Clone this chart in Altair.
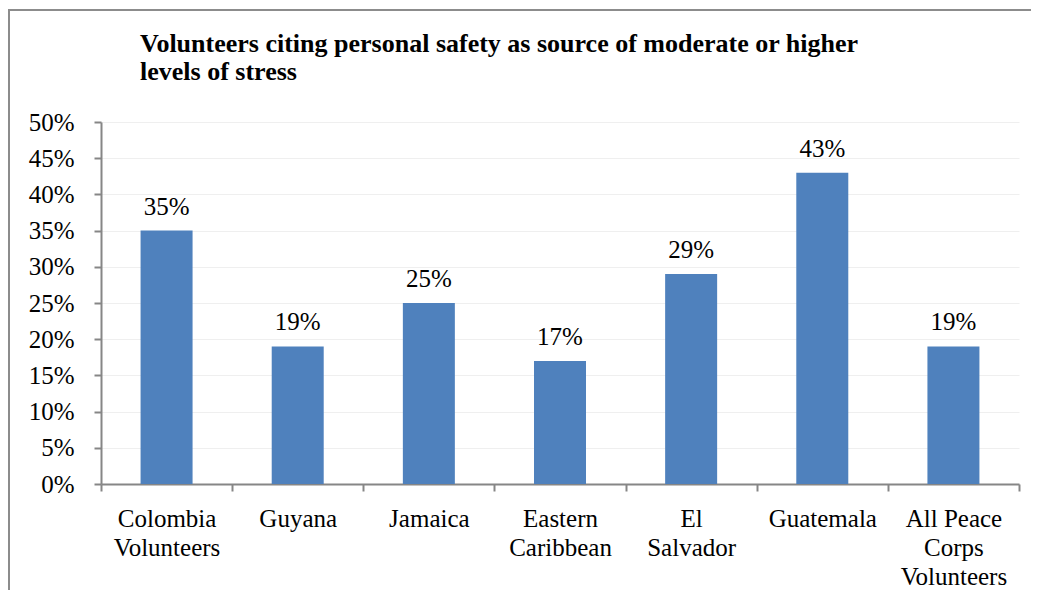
import altair as alt
import pandas as pd

categories = ["Colombia|Volunteers", "Guyana", "Jamaica", "Eastern|Caribbean",
              "El|Salvador", "Guatemala", "All Peace|Corps|Volunteers"]
values = [35, 19, 25, 17, 29, 43, 19]
y_ticks = [0, 5, 10, 15, 20, 25, 30, 35, 40, 45, 50]
title_lines = ["Volunteers citing personal safety as source of moderate or higher",
               "levels of stress"]

df = pd.DataFrame({"cat": categories, "val": values})
df["lbl"] = df["val"].astype(str) + "%"
tdf = pd.DataFrame({"t": [title_lines]})

FONT = "Liberation Serif"
GRAY = "#868686"
FS = 25

x = alt.X("cat:N", sort=categories, title=None,
          scale=alt.Scale(paddingInner=0, paddingOuter=0),
          axis=alt.Axis(labelExpr="datum.value ? split(datum.value, '|') : ''",
                        labelAngle=0,
                        labelFont=FONT, labelFontSize=FS, labelColor="black",
                        labelLineHeight=29, labelBaseline="top", labelPadding=15,
                        labelOverlap=False,
                        tickBand="extent", tickSize=7, tickColor=GRAY, tickWidth=2,
                        domainColor=GRAY, domainWidth=2, grid=False))
y = alt.Y("val:Q", title=None,
          scale=alt.Scale(domain=[0, 50], nice=False),
          axis=alt.Axis(values=y_ticks, labelExpr="datum.value + '%'",
                        labelFont=FONT, labelFontSize=FS, labelColor="black",
                        labelOverlap=False, labelFlush=False,
                        labelPadding=20, tickSize=7, tickColor=GRAY, tickWidth=2,
                        domainColor=GRAY, domainWidth=2,
                        grid=True, gridColor="#efefef", gridWidth=1))

base = alt.Chart(df)
bars = base.mark_bar(size=52, color="#4F81BD").encode(x=x, y=y)
labels = base.mark_text(font=FONT, fontSize=FS, color="black", dy=-16,
                        baseline="alphabetic").encode(x=x, y=y, text="lbl:N")

title = alt.Chart(tdf).mark_text(font=FONT, fontSize=26, fontWeight="bold",
                                 color="black", align="left", baseline="alphabetic",
                                 lineHeight=28).encode(
    x=alt.value(39), y=alt.value(-70), text="t")

frame_top = alt.Chart(tdf).mark_rule(color="#8c8c8c", strokeWidth=2).encode(
    x=alt.value(-92), x2=alt.value(960), y=alt.value(-112))
frame_left = alt.Chart(tdf).mark_rule(color="#8c8c8c", strokeWidth=2).encode(
    x=alt.value(-92), y=alt.value(-113), y2=alt.value(480))

chart = alt.layer(frame_top, frame_left, bars, labels, title).properties(
    width=918, height=362,
    padding={"left": 93, "top": 114, "right": 12, "bottom": 106},
    autosize=alt.AutoSizeParams(type="none"),
).configure_view(stroke=None)

chart.save("out.html", embed_options={"renderer": "svg", "actions": False})
